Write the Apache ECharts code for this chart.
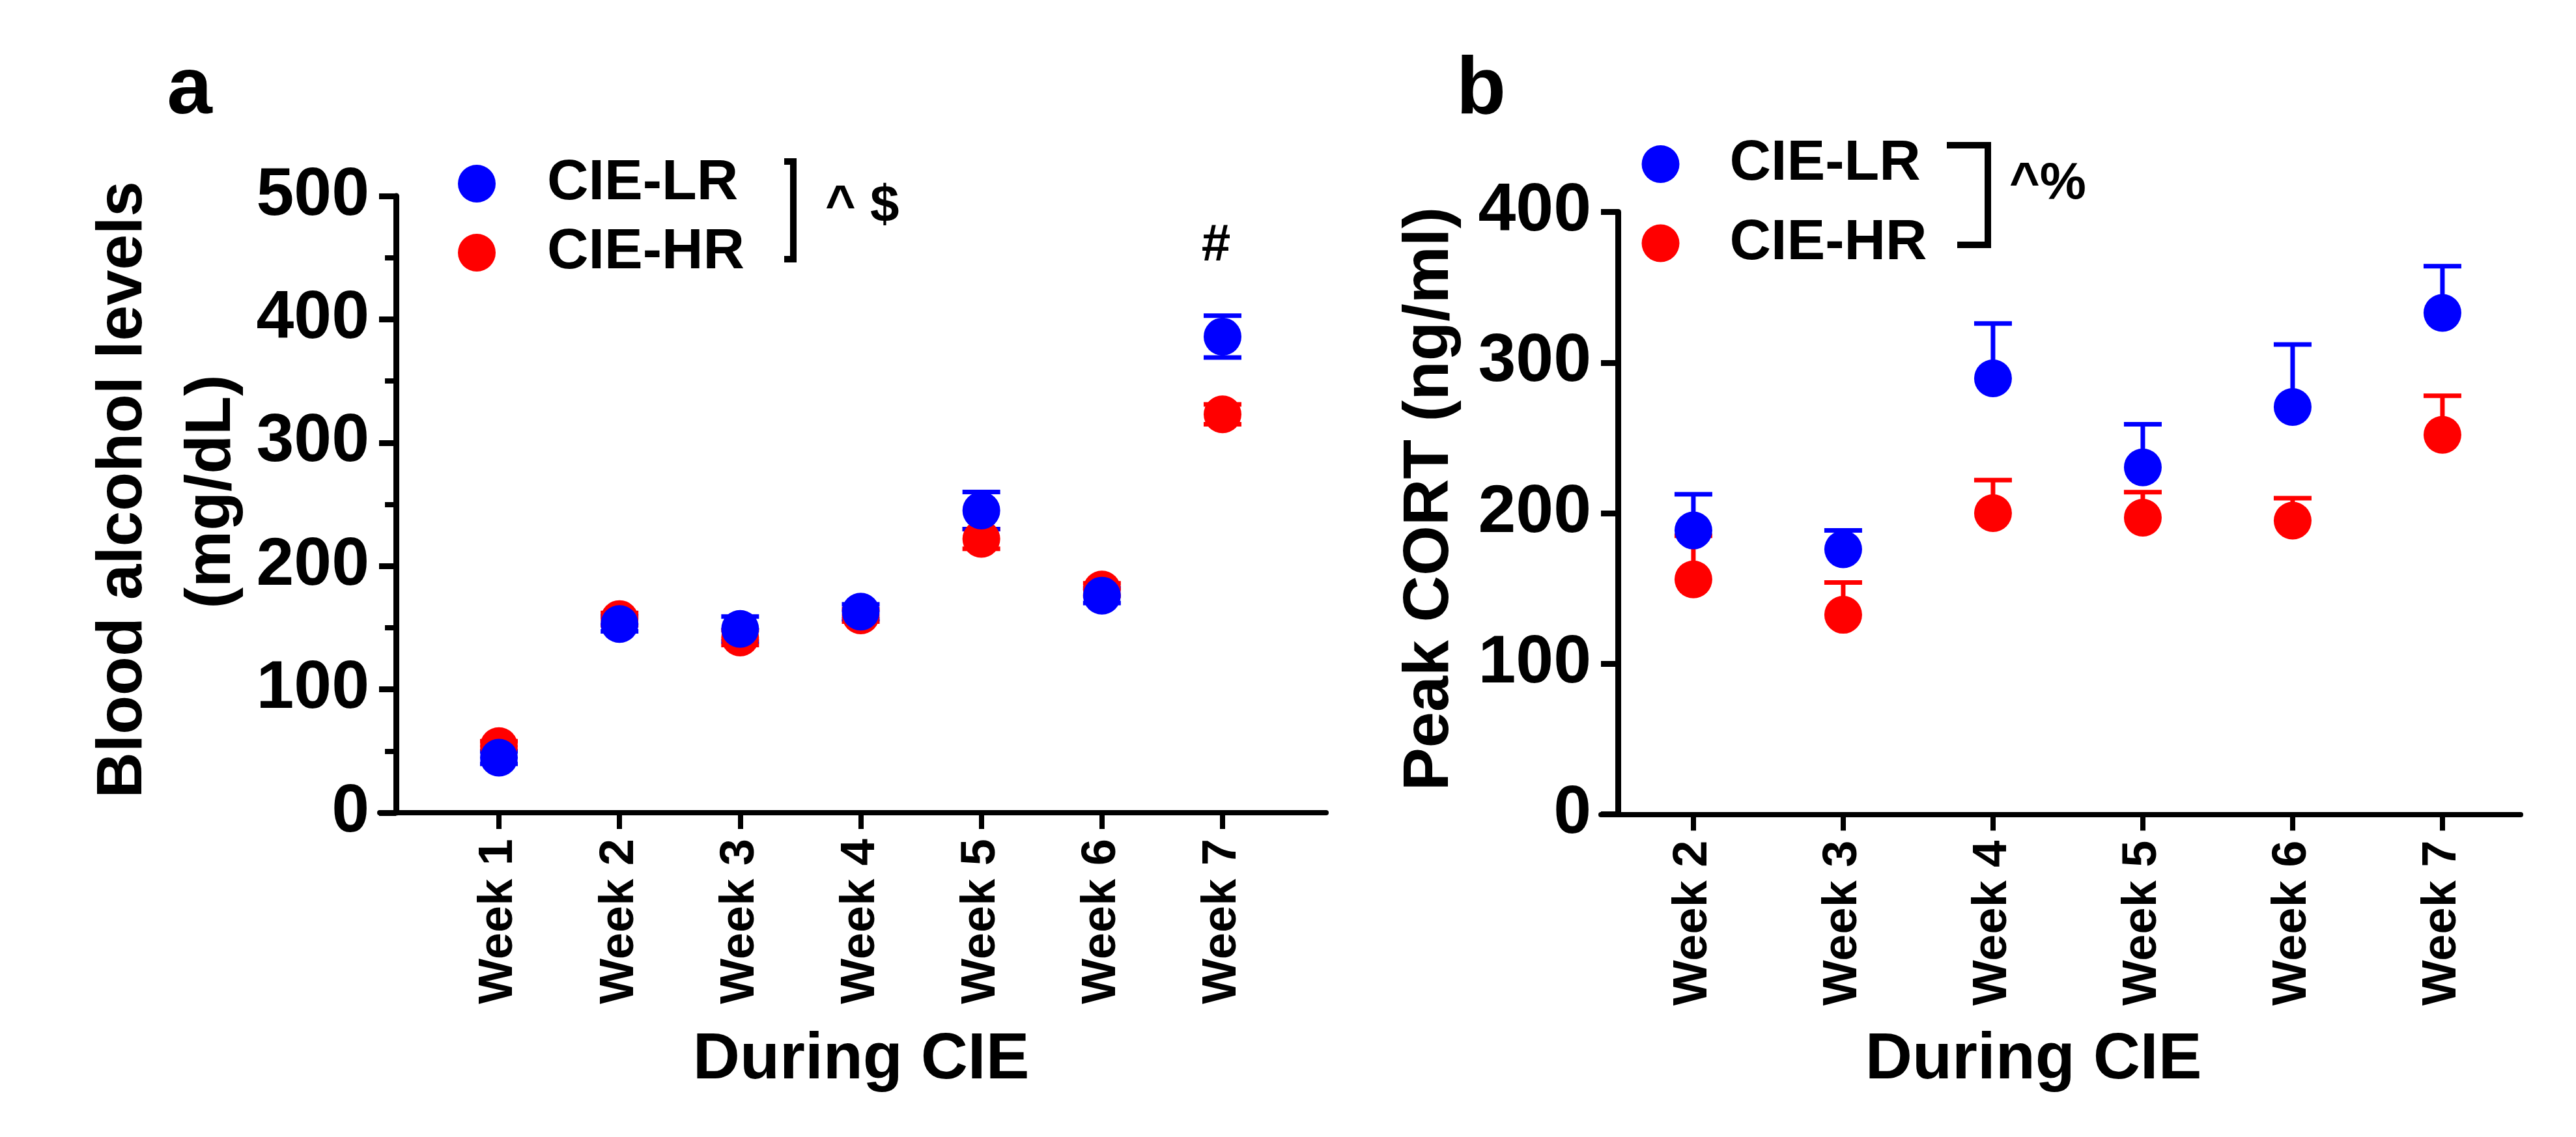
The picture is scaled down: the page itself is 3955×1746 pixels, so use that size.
<!DOCTYPE html>
<html>
<head>
<meta charset="utf-8">
<script src="https://cdn.jsdelivr.net/npm/echarts@6/dist/echarts.min.js"></script>
<style>
html,body{margin:0;padding:0;background:#fff;}
#chart{width:3955px;height:1746px;}
</style>
</head>
<body>
<div id="chart"></div>
<script>
// ---- Data ----
const weeksA = [1, 2, 3, 4, 5, 6, 7];
const weeksB = [2, 3, 4, 5, 6, 7];
const bacLR = [44.6, 153, 149, 163, 245, 176, 386];
const bacLRsem = [5, 6, 10, 6, 15, 6, 17];
const bacHR = [54, 157, 142, 160, 222, 181, 323];
const bacHRsem = [4, 5, 6, 5, 8, 5, 8];
const cortLR = [188.5, 176, 289.5, 230.4, 270.5, 333];
const cortLRsem = [24, 12.5, 36.5, 28.6, 41.5, 31];
const cortHR = [156, 132.5, 200, 197, 195, 252];
const cortHRsem = [29, 21.5, 22, 17, 15, 26];
const yTicksA = [0, 100, 200, 300, 400, 500];
const yTicksB = [0, 100, 200, 300, 400];
const seriesNames = ['CIE-LR', 'CIE-HR'];

const BLUE = '#0000FF', RED = '#FF0000';
const FONT = "'Liberation Sans', Arial, Helvetica, sans-serif";

function pts(xs, ys) { return xs.map((x, i) => [x, ys[i]]); }
function errPts(xs, ys, es) { return xs.map((x, i) => [x, ys[i], es[i]]); }

function errSeries(name, gridIdx, data, color, both) {
  return {
    type: 'custom', name: name, xAxisIndex: gridIdx, yAxisIndex: gridIdx,
    data: data, encode: { x: 0, y: 1 }, silent: true,
    renderItem: function (params, api) {
      const x = api.value(0), y = api.value(1), e = api.value(2);
      const c = api.coord([x, y]);
      const t = api.coord([x, y + e]);
      const b = both ? api.coord([x, y - e]) : c;
      const hw = 29;
      const st = { stroke: color, lineWidth: 7 };
      const ch = [
        { type: 'line', shape: { x1: c[0], y1: b[1], x2: c[0], y2: t[1] }, style: st },
        { type: 'line', shape: { x1: c[0] - hw, y1: t[1], x2: c[0] + hw, y2: t[1] }, style: st }
      ];
      if (both) ch.push({ type: 'line', shape: { x1: c[0] - hw, y1: b[1], x2: c[0] + hw, y2: b[1] }, style: st });
      return { type: 'group', children: ch };
    }
  };
}
function dotSeries(name, gridIdx, data, color) {
  return {
    type: 'scatter', name: name, xAxisIndex: gridIdx, yAxisIndex: gridIdx,
    data: data, symbol: 'circle', symbolSize: 58,
    itemStyle: { color: color, opacity: 1 }, silent: true
  };
}

function xAxisCfg(gridIdx, min, max, ticks) {
  return {
    type: 'value', gridIndex: gridIdx, min: min, max: max,
    axisLine: { show: true, onZero: false, lineStyle: { color: '#000', width: 8 } },
    axisTick: { show: true, customValues: ticks, length: 25, lineStyle: { color: '#000', width: 8 } },
    axisLabel: {
      show: true, customValues: ticks, rotate: 90, margin: 40,
      formatter: v => 'Week ' + v,
      color: '#000', fontFamily: FONT, fontWeight: 'bold', fontSize: 74
    },
    splitLine: { show: false }
  };
}
function yAxisCfg(gridIdx, max, ticks, minor) {
  return {
    type: 'value', gridIndex: gridIdx, min: 0, max: max, interval: 100, offset: -25,
    axisLine: { show: true, onZero: false, lineStyle: { color: '#000', width: 9 } },
    axisTick: { show: true, length: 26, lineStyle: { color: '#000', width: 9 } },
    minorTick: { show: minor, splitNumber: 2, length: 17, lineStyle: { color: '#000', width: 8 } },
    axisLabel: { show: true, margin: 41, color: '#000', fontFamily: FONT, fontWeight: 'bold', fontSize: 104,
      customValues: ticks },
    splitLine: { show: false }
  };
}

function gText(text, x, y, size, opts) {
  opts = opts || {};
  return {
    type: 'text', x: x, y: y, rotation: opts.rot || 0, silent: true,
    style: {
      text: text, fill: '#000',
      font: 'bold ' + size + 'px ' + FONT,
      textAlign: opts.align || 'center', align: opts.align || 'center',
      textVerticalAlign: 'middle', verticalAlign: 'middle'
    }
  };
}
function bracket(points) {
  return { type: 'polyline', silent: true, shape: { points: points },
    style: { stroke: '#000', lineWidth: 10, fill: null, lineJoin: 'miter', lineCap: 'butt' } };
}

const chart = echarts.init(document.getElementById('chart'), null, { renderer: 'canvas' });
const option = {
  backgroundColor: '#fff',
  animation: false,
  grid: [
    { left: 583, top: 301, width: 1453, height: 947 },
    { left: 2458, top: 325.5, width: 1412, height: 925 }
  ],
  xAxis: [
    xAxisCfg(0, 0.0117, 7.8587, weeksA),
    xAxisCfg(1, 1.383, 7.522, weeksB)
  ],
  yAxis: [
    yAxisCfg(0, 500, yTicksA, true),
    Object.assign(yAxisCfg(1, 400, yTicksB, false), { offset: -26 })
  ],
  legend: [
    { data: seriesNames, orient: 'vertical', left: 698, top: 233, icon: 'circle',
      itemWidth: 58, itemHeight: 58, itemGap: 18, selectedMode: false,
      textStyle: { color: '#000', fontFamily: FONT, fontWeight: 'bold', fontSize: 88, lineHeight: 58, padding: [0, 0, 0, 74] } },
    { data: seriesNames, orient: 'vertical', left: 2515.5, top: 203, icon: 'circle',
      itemWidth: 58, itemHeight: 58, itemGap: 33.5, selectedMode: false,
      textStyle: { color: '#000', fontFamily: FONT, fontWeight: 'bold', fontSize: 88, lineHeight: 58, padding: [0, 0, 0, 72] } }
  ],
  series: [
    // Panel a: red below, blue on top
    errSeries('HR-err-a', 0, errPts(weeksA, bacHR, bacHRsem), RED, true),
    dotSeries('CIE-HR', 0, pts(weeksA, bacHR), RED),
    errSeries('LR-err-a', 0, errPts(weeksA, bacLR, bacLRsem), BLUE, true),
    dotSeries('CIE-LR', 0, pts(weeksA, bacLR), BLUE),
    // Panel b: blue below, red on top
    errSeries('LR-err-b', 1, errPts(weeksB, cortLR, cortLRsem), BLUE, false),
    dotSeries('CIE-LR', 1, pts(weeksB, cortLR), BLUE),
    errSeries('HR-err-b', 1, errPts(weeksB, cortHR, cortHRsem), RED, false),
    dotSeries('CIE-HR', 1, pts(weeksB, cortHR), RED)
  ],
  graphic: [
    gText('a', 291, 140, 125),
    gText('b', 2274, 140, 125),
    gText('Blood alcohol levels', 190, 752, 98, { rot: Math.PI / 2 }),
    gText('(mg/dL)', 326, 755, 98, { rot: Math.PI / 2 }),
    gText('Peak CORT (ng/ml)', 2196, 766, 99, { rot: Math.PI / 2 }),
    gText('During CIE', 1322, 1628, 100),
    gText('During CIE', 3122, 1628, 100),
    gText('#', 1867, 378, 80),
    gText('^ $', 1267, 318, 80, { align: 'left' }),
    gText('^%', 3085, 283, 80, { align: 'left' }),
    bracket([[1204, 248], [1218, 248], [1218, 398], [1204, 398]]),
    bracket([[2989, 223], [3052, 223], [3052, 376], [3005, 376]])
  ]
};
chart.setOption(option);
</script>
</body>
</html>
